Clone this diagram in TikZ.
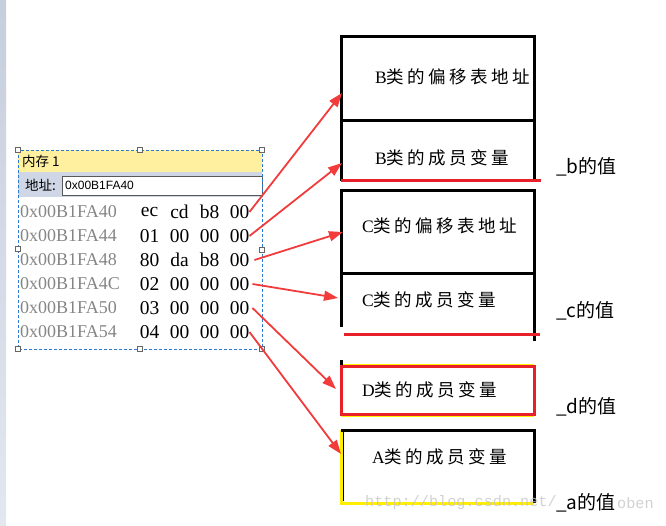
\documentclass[tikz,border=0pt]{standalone}
\usepackage{fontspec}
\setmainfont{Liberation Serif}
\newfontfamily\cjk{Noto Sans CJK SC}
\newfontfamily\cjkwide[LetterSpace=20]{Noto Sans CJK SC}
\newfontfamily\uisans{Liberation Sans}
\newfontfamily\wmark{Liberation Mono}
\usetikzlibrary{arrows.meta,positioning}
\definecolor{arrowred}{HTML}{F23C3C}
\definecolor{edgered}{HTML}{E8202A}
\definecolor{markyellow}{HTML}{FFEE00}
\definecolor{titlebg}{HTML}{FFF0A0}
\definecolor{addrbg}{HTML}{CFD7E6}
\definecolor{selblue}{HTML}{2B7BD2}
\definecolor{addrgray}{HTML}{858585}

\begin{document}
\begin{tikzpicture}[x=1pt, y=-1pt,
  addr/.style={anchor=west, inner sep=0pt, text=addrgray,
    font=\fontsize{18}{18}\selectfont},
  byte/.style={inner sep=0pt, text=black,
    font=\fontsize{19.5}{19.5}\selectfont},
  slot/.style={anchor=west, inner sep=0pt,
    font=\fontsize{17.5}{17.5}\selectfont},
  val/.style={anchor=west, inner sep=0pt,
    font=\cjk\fontsize{19}{19}\selectfont},
  ui/.style={anchor=west, inner sep=0pt,
    font=\cjk\fontsize{13.5}{13.5}\selectfont},
  frame/.style={line width=3pt, black},
  redge/.style={line width=3pt, edgered},
  yedge/.style={line width=3pt, markyellow},
  handle/.style={draw=gray!80!black, fill=white, line width=0.8pt,
    minimum size=5pt, inner sep=0pt},
  arr/.style={-{Triangle[length=14pt,width=10pt]}, line width=1.8pt, arrowred}
]
\useasboundingbox (0,0) rectangle (666,526);
\shade[top color=addrbg!90!gray, bottom color=addrbg!60!white] (0,0) rectangle (6,526);

%=== MEMORY WINDOW ===
\fill[titlebg] (18,150) rectangle (262,172);
\fill[addrbg]  (18,172) rectangle (262,197);
\draw[gray!70!black, fill=white, line width=0.8pt] (62,176) rectangle (262,195);
\node[ui] (title) at (22,161) {内存 1};
\node[ui] (addrlbl) at (25,185.5) {地址:};
\node[anchor=west, inner sep=0pt, font=\uisans\fontsize{12}{12}\selectfont]
  (addrin) at (65,185.5) {0x00B1FA40};

\foreach \a/\bytes [count=\i from 0] in {40/{ec,cd,b8,00}, 44/{01,00,00,00},
    48/{80,da,b8,00}, 4C/{02,00,00,00}, 50/{03,00,00,00}, 54/{04,00,00,00}} {
  \node[addr] (a\i) at (20,212+24*\i) {0x00B1FA\a};
  \foreach \b [count=\j from 0] in \bytes
    \node[byte] (b\i\j) at (149.5+30*\j,212+24*\i) {\b};
}

\draw[selblue, line width=0.8pt, dash pattern=on 3pt off 2pt]
  (18,150) rectangle (262,349);
\foreach \hx/\hy [count=\k] in {18/150, 140/150, 262/150, 18/249,
    262/250, 18/349, 140/349, 262/349}
  \node[handle] (h\k) at (\hx,\hy) {};

%=== CLASS LAYOUT ===
% B part
\draw[frame] (341,181) -- (341,37) -- (534,37) -- (534,181);
\draw[frame] (341,121) -- (534,121);
\draw[redge] (341,181) -- (541,181);
\node[slot] (Boff) at (375,77) {B{\cjkwide 类的偏移表地址}};
\node[slot] (Bmem) at (375,158) {B{\cjkwide 类的成员变量}};

% C part
\draw[frame] (341,327) -- (341,191) -- (534,191) -- (534,341);
\draw[frame] (341,274) -- (534,274);
\draw[redge] (344,334) -- (540,334);
\node[slot] (Coff) at (362,226) {C{\cjkwide 类的偏移表地址}};
\node[slot] (Cmem) at (362,300) {C{\cjkwide 类的成员变量}};

% D part
\draw[markyellow, line width=1pt] (341,364) -- (534,364);
\draw[markyellow, line width=1pt] (341,416) -- (534,416);
\draw[black, line width=3pt] (341,360) -- (341,366);
\draw[redge] (341,366) rectangle (534,414);
\node[slot] (Dmem) at (362,390) {D{\cjkwide 类的成员变量}};

% A part
\draw[yedge] (341,430) -- (341,503) -- (534,503);
\draw[black, line width=1pt] (343,430) -- (343,501);
\draw[frame] (341,430) -- (534,430) -- (534,503);
\node[slot] (Amem) at (372,457) {A{\cjkwide 类的成员变量}};

%=== VALUE LABELS ===
\node[val] (bval) at (556,167) {\_b的值};
\node[val] (cval) at (556,311) {\_c的值};
\node[val] (dval) at (556,407) {\_d的值};
\node[val] (aval) at (556,503) {\_a的值};

%=== ARROWS ===
\coordinate (t1) at (342,93);
\coordinate (t2) at (342,163);
\coordinate (t3) at (343,232);
\coordinate (t4) at (338,298);
\coordinate (t5) at (336,389);
\coordinate (t6) at (341,454);
\draw[arr] (b03.east) -- (t1);
\draw[arr] (b13.east) -- (t2);
\draw[arr] ([xshift=5pt]b23.east) -- (t3);
\draw[arr] ([xshift=3pt]b33.east) -- (t4);
\draw[arr] ([xshift=3pt]b43.east) -- (t5);
\draw[arr] (b53.east) -- (t6);

%=== WATERMARK ===
\node[anchor=west, inner sep=0pt, text=gray!45, opacity=0.8,
  font=\wmark\fontsize{15.2}{15.2}\selectfont] (wm1) at (365,503) {http://blog.csdn.net/};
\node[anchor=west, inner sep=0pt, text=gray!45, opacity=0.8,
  font=\wmark\fontsize{15.2}{15.2}\selectfont] (wm2) at (617,503) {oben};
\end{tikzpicture}
\end{document}
